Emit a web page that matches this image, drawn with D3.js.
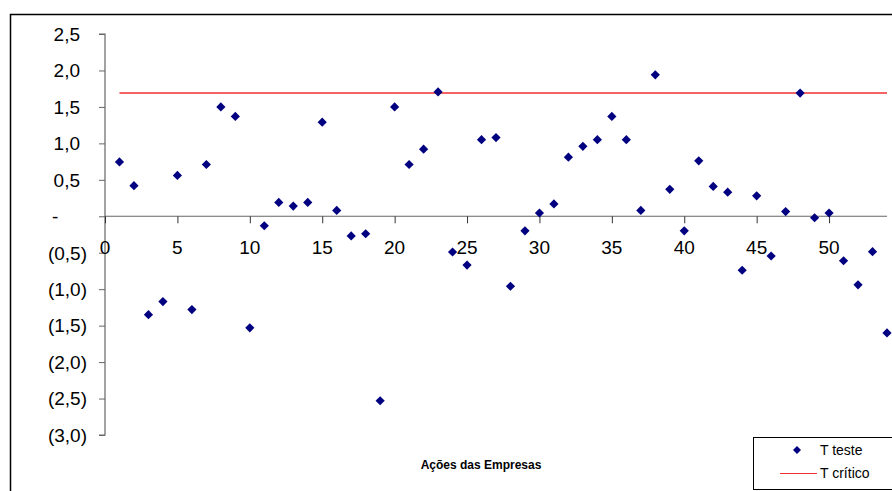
<!DOCTYPE html>
<html><head><meta charset="utf-8">
<script src="https://cdn.jsdelivr.net/npm/d3@7"></script>
<style>html,body{margin:0;padding:0;background:#fff}svg{display:block}</style>
</head><body>
<svg id="c" width="892" height="491"></svg>
<script>
const empresas = d3.range(1, 55);
const tTeste = [0.745, 0.42, -1.35, -1.17, 0.56, -1.28, 0.71, 1.50, 1.37, -1.53,
  -0.13, 0.19, 0.14, 0.19, 1.29, 0.08, -0.27, -0.24, -2.53, 1.50,
  0.71, 0.92, 1.705, -0.49, -0.67, 1.05, 1.08, -0.96, -0.20, 0.045,
  0.17, 0.81, 0.96, 1.05, 1.37, 1.05, 0.08, 1.94, 0.37, -0.20,
  0.76, 0.41, 0.33, -0.74, 0.28, -0.545, 0.065, 1.69, -0.02, 0.045,
  -0.61, -0.94, -0.485, -1.60];
const tCritico = 1.69;
const yTicks = [2.5, 2.0, 1.5, 1.0, 0.5, 0, -0.5, -1.0, -1.5, -2.0, -2.5, -3.0];
const xTicks = [0, 5, 10, 15, 20, 25, 30, 35, 40, 45, 50];
const xTitle = "Ações das Empresas";
const legendLabels = ["T teste", "T crítico"];

const svg = d3.select("#c");
const font = "Liberation Sans, Arial, sans-serif";
const x = d3.scaleLinear().domain([0, 54]).range([105, 887]);
const y = d3.scaleLinear().domain([-3, 2.5]).range([435, 34]);

// frame
svg.append("rect").attr("x", 10.5).attr("y", 14.5).attr("width", 900).attr("height", 500)
  .attr("fill", "none").attr("stroke", "#000").attr("stroke-width", 1.5);

// y axis
const yAxis = svg.append("g").attr("transform", `translate(${x(0)},0)`)
  .call(d3.axisLeft(y).tickValues(yTicks).tickSize(6).tickFormat(""));
yAxis.select(".domain").attr("stroke", "#666").attr("stroke-width", 1.2).attr("d", `M-6,${y(2.5)}H0V${y(-3)}H-6`);
yAxis.selectAll(".tick line").attr("stroke", "#666");

const fmt = v => {
  const s = Math.abs(v).toFixed(1).replace(".", ",");
  return v > 0 ? s : v < 0 ? "(" + s + ")" : "-";
};
svg.append("g").selectAll("text").data(yTicks).join("text")
  .attr("x", d => d > 0 ? 80 : d < 0 ? 87 : 52)
  .attr("y", d => y(d))
  .attr("dy", "0.36em")
  .attr("text-anchor", d => d === 0 ? "start" : "end")
  .attr("font-family", font).attr("font-size", 19).attr("fill", "#000")
  .text(fmt);

// x axis
const xAxis = svg.append("g").attr("transform", `translate(0,${y(0)})`)
  .call(d3.axisBottom(x).tickValues(xTicks).tickSize(7).tickFormat(""));
xAxis.select(".domain").attr("stroke", "#666").attr("stroke-width", 1.2).attr("d", `M${x(0)},0H${x(54)}`);
xAxis.selectAll(".tick line").attr("stroke", "#333");
svg.append("g").selectAll("text").data(xTicks).join("text")
  .attr("x", d => x(d)).attr("y", y(0) + 38)
  .attr("text-anchor", "middle")
  .attr("font-family", font).attr("font-size", 19).attr("fill", "#000")
  .text(d => d);

// critical line
svg.append("path")
  .attr("d", d3.line().x(d => x(d)).y(() => y(tCritico))([empresas[0], empresas[empresas.length - 1]]))
  .attr("stroke", "#f03030").attr("stroke-width", 1.5).attr("fill", "none");

// diamonds
const diamond = (cx, cy, r) => `M${cx},${cy - r}L${cx + r},${cy}L${cx},${cy + r}L${cx - r},${cy}Z`;
svg.append("g").selectAll("path").data(tTeste).join("path")
  .attr("d", (d, i) => diamond(x(empresas[i]), y(d), 4.6))
  .attr("fill", "#000080");

// x title
svg.append("text").attr("x", 481).attr("y", 469).attr("text-anchor", "middle")
  .attr("font-family", font).attr("font-size", 12).attr("font-weight", "bold")
  .text(xTitle);

// legend
svg.append("rect").attr("x", 753.5).attr("y", 437.5).attr("width", 150).attr("height", 52)
  .attr("fill", "#fff").attr("stroke", "#000").attr("stroke-width", 1);
svg.append("path").attr("d", diamond(797, 450, 4)).attr("fill", "#000080");
svg.append("line").attr("x1", 780).attr("x2", 817).attr("y1", 473.5).attr("y2", 473.5)
  .attr("stroke", "#f03030").attr("stroke-width", 1.2);
svg.append("g").selectAll("text").data(legendLabels).join("text")
  .attr("x", 820).attr("y", (d, i) => 455 + i * 23)
  .attr("font-family", font).attr("font-size", 14).attr("fill", "#000")
  .text(d => d);
</script>
</body></html>
